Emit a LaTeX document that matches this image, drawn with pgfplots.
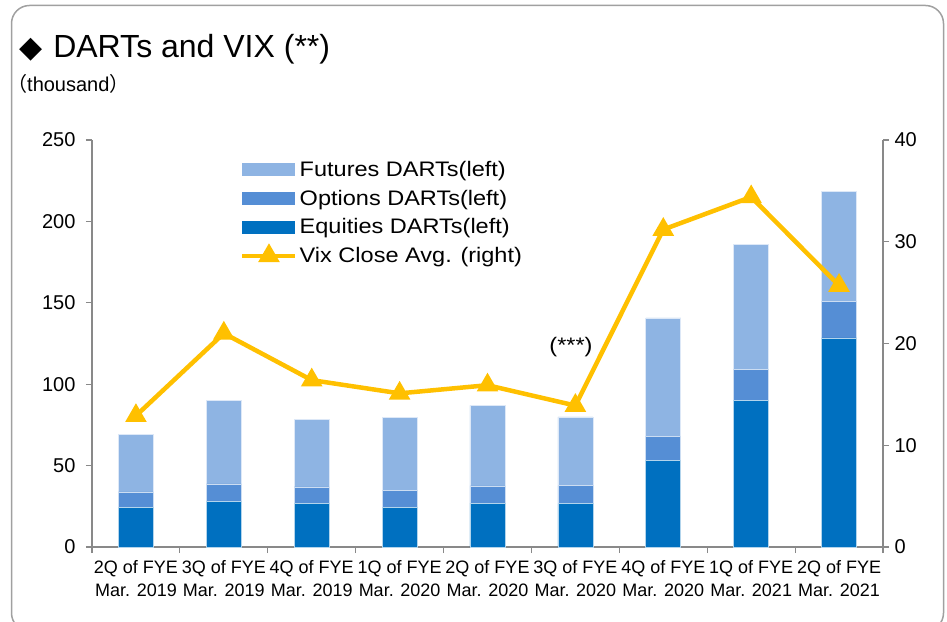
\documentclass[border=0pt]{standalone}
\usepackage{pgfplots}
\pgfplotsset{compat=1.18}
\usepackage{pgfplotstable}
\usepackage{fontspec}
\setmainfont{Liberation Sans}
\newfontfamily\widefont[FakeStretch=1.12]{Liberation Sans}
\newfontfamily\cjk{Noto Sans CJK JP}
\newfontfamily\dejavu{DejaVu Sans}
\definecolor{eq}{HTML}{0070C0}
\definecolor{op}{HTML}{558ED5}
\definecolor{fu}{HTML}{8EB4E3}
\definecolor{vix}{HTML}{FFC000}
\definecolor{axgray}{HTML}{898989}
\definecolor{framegray}{HTML}{A0A0A0}
\pgfplotsset{
  my area legend/.style={legend image code/.code={\fill[##1] (0pt,-6.5pt) rectangle (53pt,6.5pt);}},
  my line legend/.style={legend image code/.code={\draw[mark repeat=2,mark phase=2,##1] plot coordinates {(0pt,0pt) (26.5pt,0pt) (53pt,0pt)};}},
}
\pgfplotstableread{
x eq op fu vix
0 24.1 9.7 35.6 12.9
1 27.8 10.9 51.2 21.0
2 26.6 10.3 41.5 16.4
3 24.1 10.5 44.8 15.1
4 27.0 10.5 49.5 15.9
5 26.6 11.1 42.2 13.9
6 53.0 14.8 72.9 31.2
7 89.9 19.0 77.0 34.4
8 128.4 22.3 67.6 25.7
}\data
\begin{document}
\begin{tikzpicture}[x=1pt,y=1pt]
\useasboundingbox (0,0) rectangle (947,621);
\draw[framegray, line width=1.5pt, rounded corners=18pt] (11.5,615.5) rectangle (943.5,-10);
\node[anchor=base west, inner sep=0] at (19,563) {{\dejavu\fontsize{30}{36}\selectfont ◆}\hspace{11pt}{\fontsize{32}{38}\selectfont DARTs and VIX (**)}};
\node[anchor=base west, inner sep=0, font=\fontsize{20}{24}\selectfont] at (7,529) {{\cjk （}thousand{\cjk ）}};
\begin{axis}[
  scale only axis, width=791pt, height=407pt,
  at={(92pt,74pt)}, anchor=south west,
  xmin=-0.5, xmax=8.5, ymin=0, ymax=250,
  ytick={0,50,...,250},
  axis x line*=bottom, axis y line*=left,
  xtick pos=left, ytick pos=left,
  axis line style={axgray, line width=1.2pt},
  tick style={axgray, line width=1.2pt},
  tick align=outside,
  major tick length=6pt, minor tick length=6pt,
  xtick={0,...,8},
  major x tick style={draw=none},
  minor xtick={-0.5,0.5,...,8.5},
  xticklabels={{2Q of FYE\\Mar. 2019},{3Q of FYE\\Mar. 2019},{4Q of FYE\\Mar. 2019},{1Q of FYE\\Mar. 2020},{2Q of FYE\\Mar. 2020},{3Q of FYE\\Mar. 2020},{4Q of FYE\\Mar. 2020},{1Q of FYE\\Mar. 2021},{2Q of FYE\\Mar. 2021}},
  xticklabel style={align=center, font=\fontsize{18}{23}\selectfont, yshift=-4pt},
  yticklabel style={font=\fontsize{20}{24}\selectfont, xshift=-7pt},
  /pgf/number format/assume math mode=true,
  ybar stacked, bar width=35pt,
]
\addplot[fill=eq, draw=white!70!eq, line width=0.6pt] table[x=x,y=eq]{\data};
\addplot[fill=op, draw=white!70!op, line width=0.6pt] table[x=x,y=op]{\data};
\addplot[fill=fu, draw=white!70!fu, line width=0.6pt] table[x=x,y=fu]{\data};
\node[font=\widefont\fontsize{21}{25}\selectfont, anchor=center] at (axis cs:4.95,123) {(***)};
\end{axis}
\begin{axis}[
  scale only axis, width=791pt, height=407pt,
  at={(92pt,74pt)}, anchor=south west,
  xmin=-0.5, xmax=8.5, ymin=0, ymax=40,
  ytick={0,10,...,40},
  axis x line=none, axis y line*=right, ytick pos=right,
  axis line style={axgray, line width=1.2pt},
  tick style={axgray, line width=1.2pt},
  tick align=outside, major tick length=6pt,
  yticklabel style={font=\fontsize{20}{24}\selectfont, xshift=2pt},
  /pgf/number format/assume math mode=true,
  legend style={at={(0.1846,0.958)}, anchor=north west, draw=none, fill=none,
    font=\widefont\fontsize{21}{25}\selectfont, row sep=8pt, inner sep=2pt},
  legend cell align=left,
]
\addlegendimage{my area legend, fill=fu, draw=none}
\addlegendentry{Futures DARTs(left)}
\addlegendimage{my area legend, fill=op, draw=none}
\addlegendentry{Options DARTs(left)}
\addlegendimage{my area legend, fill=eq, draw=none}
\addlegendentry{Equities DARTs(left)}
\addplot[my line legend, vix, line width=4.5pt, mark=triangle*, mark size=8pt, mark options={solid, draw=none, fill=vix}] table[x=x,y=vix]{\data};
\addlegendentry{Vix Close Avg. (right)}
\end{axis}
\end{tikzpicture}
\end{document}
